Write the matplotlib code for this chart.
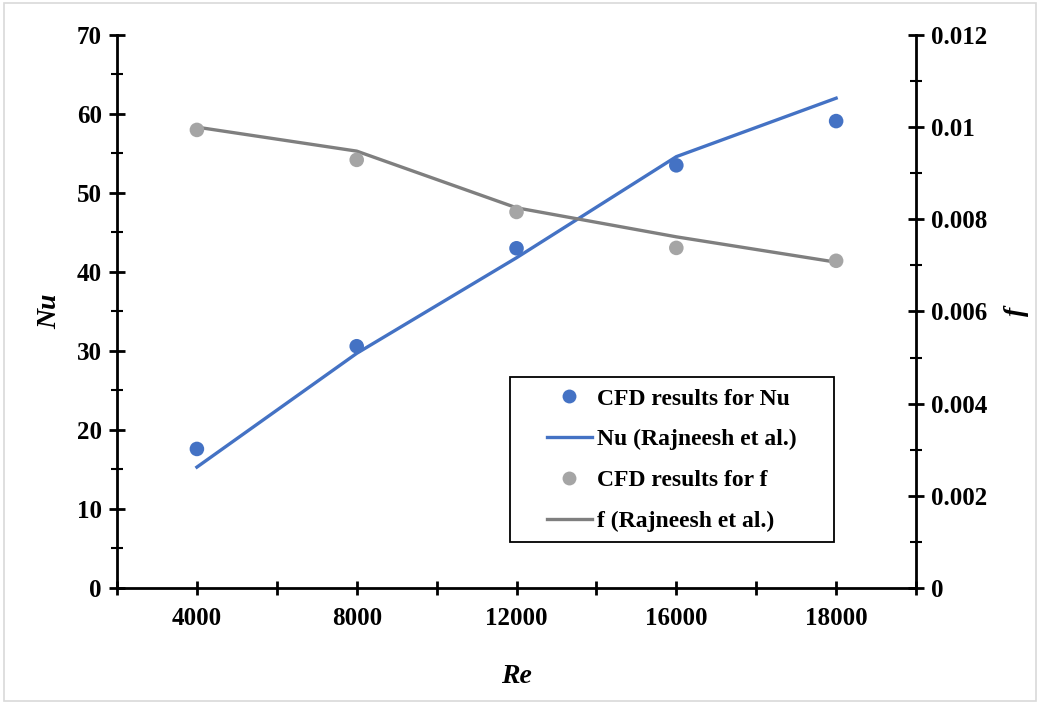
import numpy as np
import matplotlib.pyplot as plt
from matplotlib.lines import Line2D
from matplotlib.patches import Rectangle
from matplotlib.ticker import MultipleLocator

plt.rcParams['font.family'] = ['Liberation Serif', 'DejaVu Serif']
plt.rcParams['font.weight'] = 'bold'

re_labels = ['4000', '8000', '12000', '16000', '18000']
nu_cfd = [17.6, 30.6, 43.0, 53.5, 59.1]
nu_ref = [15.3, 29.7, 41.8, 54.6, 62.0]
f_cfd = [0.00994, 0.00929, 0.00816, 0.00738, 0.00710]
f_ref = [0.01000, 0.00948, 0.00825, 0.00762, 0.00707]

blue = '#4472C4'
gray_pt = '#A5A5A5'
gray_ln = '#7F7F7F'

fig = plt.figure(figsize=(10.4, 7.04), dpi=100)
ax = fig.add_axes([0.1125, 0.1648, 0.7683, 0.7855])
ax2 = ax.twinx()

x = np.arange(len(re_labels))

ax.plot(x, nu_ref, color=blue, lw=2.4, zorder=3)
ax.scatter(x, nu_cfd, color=blue, s=110, zorder=4, edgecolors='none')
ax2.plot(x, f_ref, color=gray_ln, lw=2.4, zorder=3)
ax2.scatter(x, f_cfd, color=gray_pt, s=110, zorder=4, edgecolors='none')

ax.set_xlim(-0.5, len(re_labels) - 0.5)
ax.set_ylim(0, 70)
ax2.set_ylim(0, 0.012)

# category axis: ticks at centres and boundaries
ax.set_xticks(np.arange(-0.5, len(re_labels), 0.5))
tick_text = []
for i in range(2 * len(re_labels) + 1):
    tick_text.append(re_labels[(i - 1) // 2] if i % 2 == 1 else '')
ax.set_xticklabels(tick_text)

ax.yaxis.set_major_locator(MultipleLocator(10))
ax.yaxis.set_minor_locator(MultipleLocator(5))
ax2.yaxis.set_minor_locator(MultipleLocator(0.001))
ax2.set_yticks([0, 0.002, 0.004, 0.006, 0.008, 0.01, 0.012])
ax2.set_yticklabels(['0', '0.002', '0.004', '0.006', '0.008', '0.01', '0.012'])

for a in (ax, ax2):
    a.spines['top'].set_visible(False)
    for s in a.spines.values():
        s.set_linewidth(2)
    a.tick_params(axis='both', which='major', direction='inout', length=12,
                  width=2, labelsize=18, pad=5)
    a.tick_params(axis='both', which='minor', direction='inout', length=9, width=1.5)
ax.spines['right'].set_visible(False)
ax2.spines['left'].set_visible(False)
ax2.spines['bottom'].set_visible(False)
ax.tick_params(axis='x', which='major', length=10, pad=9)

ax.set_xlabel('Re', fontsize=20, fontstyle='italic', fontweight='bold', labelpad=24)
ax.set_ylabel('Nu', fontsize=20, fontstyle='italic', fontweight='bold', labelpad=10)
ax2.set_ylabel('f', fontsize=20, fontstyle='italic', fontweight='bold', labelpad=12,
               rotation=90)

handles = [
    Line2D([0], [0], marker='o', color='w', markerfacecolor=blue, markersize=10,
           markeredgecolor='none', label='CFD results for Nu'),
    Line2D([0], [0], color=blue, lw=2.4, label='Nu (Rajneesh et al.)'),
    Line2D([0], [0], marker='o', color='w', markerfacecolor=gray_pt, markersize=10,
           markeredgecolor='none', label='CFD results for f'),
    Line2D([0], [0], color=gray_ln, lw=2.4, label='f (Rajneesh et al.)'),
]
leg = ax2.legend(handles=handles, loc='upper left', bbox_to_anchor=(547 / 1040, 1 - 388 / 704),
                 bbox_transform=fig.transFigure, fontsize=17, frameon=False,
                 handlelength=1.9, handletextpad=0.2, labelspacing=0.82, borderpad=0,
                 borderaxespad=0)

# legend frame drawn separately (Excel-style wide left padding)
fig.patches.append(Rectangle((510 / 1040, 1 - 542 / 704), 324 / 1040, 165 / 704,
                             transform=fig.transFigure, fill=False, edgecolor='black',
                             lw=1.3, zorder=5))
fig.patches.append(Rectangle((0.004, 0.004), 0.992, 0.992, transform=fig.transFigure,
                             fill=False, edgecolor='#D9D9D9', lw=1.2))

fig.savefig('out.png', dpi=100)
